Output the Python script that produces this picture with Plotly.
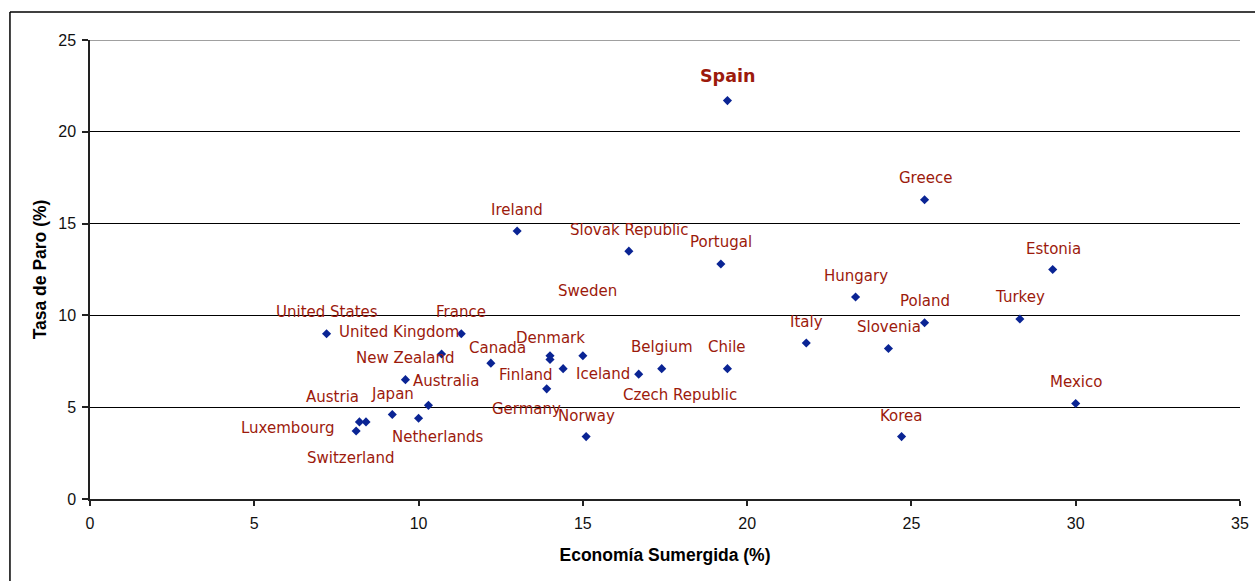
import plotly.graph_objects as go

# ---- data ----
countries = [
    "Spain", "Greece", "Ireland", "Slovak Republic", "Portugal", "Estonia",
    "Hungary", "Sweden", "Poland", "Turkey", "United States", "France",
    "Italy", "Slovenia", "United Kingdom", "Denmark", "Canada", "Belgium",
    "Chile", "New Zealand", "Finland", "Iceland", "Australia",
    "Czech Republic", "Mexico", "Austria", "Japan", "Germany", "Norway",
    "Korea", "Luxembourg", "Netherlands", "Switzerland",
]
economia_sumergida = [
    19.4, 25.4, 13.0, 16.4, 19.2, 29.3,
    23.3, 15.0, 25.4, 28.3, 7.2, 11.3,
    21.8, 24.3, 10.7, 14.0, 12.2, 17.4,
    19.4, 9.6, 14.0, 14.4, 10.3,
    16.7, 30.0, 8.4, 9.2, 13.9, 15.1,
    24.7, 8.2, 10.0, 8.1,
]
tasa_paro = [
    21.7, 16.3, 14.6, 13.5, 12.8, 12.5,
    11.0, 7.8, 9.6, 9.8, 9.0, 9.0,
    8.5, 8.2, 7.9, 7.6, 7.4, 7.1,
    7.1, 6.5, 7.8, 7.1, 5.1,
    6.8, 5.2, 4.2, 4.6, 6.0, 3.4,
    3.4, 4.2, 4.4, 3.7,
]
x_ticks = [0, 5, 10, 15, 20, 25, 30, 35]
y_ticks = [0, 5, 10, 15, 20, 25]

# ---- label placement (pixel offsets from each point: dx right, dy down) ----
label_offsets = {
    "Spain": (0, -25), "Greece": (1, -21.6), "Ireland": (0, -21.3),
    "Slovak Republic": (1, -21), "Portugal": (0, -21.7), "Estonia": (1, -21),
    "Hungary": (0, -21), "Sweden": (4.6, -64.3), "Poland": (0, -21.3),
    "Turkey": (0, -21.6), "United States": (0, -21.3), "France": (0, -21.3),
    "Italy": (0, -21), "Slovenia": (1, -21.6), "United Kingdom": (-43, -22.3),
    "Denmark": (0, -21), "Canada": (6.6, -15.6), "Belgium": (0, -21.3),
    "Chile": (0, -21.3), "New Zealand": (0, -21.7), "Finland": (-24.3, 19.3),
    "Iceland": (40.3, 5), "Australia": (17.7, -24.3),
    "Czech Republic": (41.7, 21), "Mexico": (0, -21.3), "Austria": (-34, -25.3),
    "Japan": (0, -21), "Germany": (-20, 19.7), "Norway": (0, -20.3),
    "Korea": (0, -21), "Luxembourg": (-71, 6.6), "Netherlands": (19, 18.7),
    "Switzerland": (-5, 27),
}

LABEL_COLOR = "#9C1A0C"
MARKER_COLOR = "#0A2494"
TICK_FONT = dict(family="Liberation Sans, Arial, sans-serif", size=16, color="#111111")
TITLE_FONT = dict(family="Liberation Sans, Arial, sans-serif", size=17.5, color="#000000", weight="bold")

fig = go.Figure()
fig.add_trace(go.Scatter(
    x=economia_sumergida, y=tasa_paro, mode="markers",
    marker=dict(symbol="diamond", size=7, color=MARKER_COLOR, line=dict(width=0)),
    text=countries, hoverinfo="text+x+y", showlegend=False,
))

for name, xv, yv in zip(countries, economia_sumergida, tasa_paro):
    dx, dy = label_offsets[name]
    is_spain = name == "Spain"
    fig.add_annotation(
        x=xv, y=yv, xref="x", yref="y", text=name, showarrow=False,
        xshift=dx, yshift=-dy,
        font=dict(family="DejaVu Sans, Verdana, sans-serif",
                  size=17.5 if is_spain else 15, color=LABEL_COLOR,
                  weight="bold" if is_spain else "normal"),
    )

# outer chart border (left and top edges visible in the frame)
fig.add_shape(type="line", xref="paper", yref="paper",
              x0=-0.0696, x1=-0.0696, y0=-0.2, y1=1.061,
              line=dict(color="#000000", width=1.5), layer="below")
fig.add_shape(type="line", xref="paper", yref="paper",
              x0=-0.0696, x1=1.03, y0=1.061, y1=1.061,
              line=dict(color="#000000", width=1.5), layer="below")
# top plot-area edge (grey) at the top gridline
fig.add_shape(type="line", xref="paper", yref="y", x0=0, x1=1, y0=25, y1=25,
              line=dict(color="#808080", width=1.5), layer="above")

fig.update_layout(
    width=1255, height=581,
    margin=dict(l=90, r=15, t=40, b=82, autoexpand=False),
    paper_bgcolor="white", plot_bgcolor="white",
    xaxis=dict(
        range=[0, 35], tickvals=x_ticks, ticktext=[str(v) for v in x_ticks],
        showgrid=False, zeroline=False, showline=True, linecolor="#222222", linewidth=1.5,
        ticks="outside", ticklen=5, tickcolor="#222222", tickwidth=1.5,
        tickfont=TICK_FONT, ticklabelstandoff=4, automargin=False,
        title=dict(text="Economía Sumergida (%)", font=TITLE_FONT, standoff=18),
        fixedrange=True,
    ),
    yaxis=dict(
        range=[0, 25], tickvals=y_ticks, ticktext=[str(v) for v in y_ticks],
        showgrid=True, gridcolor="#000000", gridwidth=1,
        zeroline=False, showline=True, linecolor="#222222", linewidth=1.5,
        ticks="outside", ticklen=6, tickcolor="#222222", tickwidth=1.5,
        tickfont=TICK_FONT, ticklabelstandoff=3, automargin=False,
        title=dict(text="Tasa de Paro (%)", font=TITLE_FONT, standoff=7),
        fixedrange=True,
    ),
)

# remove the default 8px page margin so the 1255x581 figure fills the window
fig.write_html(
    "out.html",
    config={"displayModeBar": False},
    post_script="document.body.style.margin='0';document.body.style.overflow='hidden';",
)
